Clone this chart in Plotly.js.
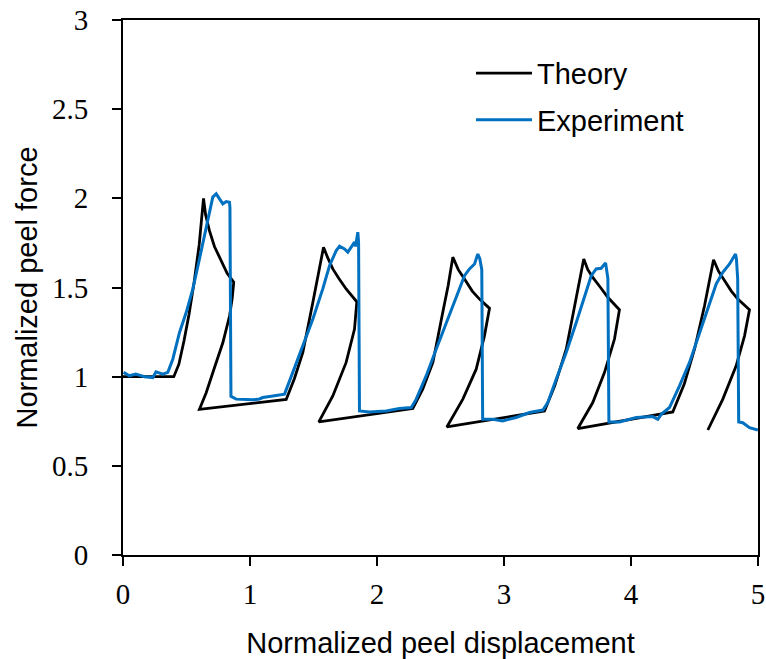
<!DOCTYPE html>
<html>
<head>
<meta charset="utf-8">
<script src="https://cdn.plot.ly/plotly-3.0.1.min.js"></script>
<style>html,body{margin:0;padding:0;background:#fff;}#chart{width:766px;height:659px;}</style>
</head>
<body>
<div id="chart"></div>
<script>
// Theory curve (single continuous path with snap-back loops)
const theoryX = [0, 0.40, 0.44, 0.48, 0.52, 0.56, 0.60, 0.634,
  0.65, 0.68, 0.72, 0.77, 0.82, 0.872,
  0.860, 0.839, 0.786, 0.72, 0.655, 0.602,
  1.285, 1.35, 1.416, 1.495, 1.547, 1.579,
  1.61, 1.652, 1.70, 1.757, 1.841,
  1.823, 1.757, 1.652, 1.542,
  2.282, 2.36, 2.44, 2.518, 2.56, 2.597,
  2.64, 2.689, 2.75, 2.807, 2.886,
  2.846, 2.781, 2.676, 2.55,
  3.319, 3.40, 3.49, 3.568, 3.628,
  3.66, 3.699, 3.76, 3.817, 3.909,
  3.87, 3.791, 3.699, 3.581,
  4.329, 4.42, 4.50, 4.579, 4.65,
  4.69, 4.736, 4.79, 4.841, 4.933,
  4.894, 4.828, 4.723, 4.605];
const theoryY = [1.0, 1.0, 1.07, 1.2, 1.35, 1.53, 1.74, 2.0,
  1.91, 1.82, 1.73, 1.65, 1.58, 1.53,
  1.44, 1.34, 1.19, 1.05, 0.91, 0.817,
  0.872, 0.99, 1.136, 1.417, 1.604, 1.726,
  1.67, 1.604, 1.55, 1.492, 1.42,
  1.267, 1.08, 0.892, 0.746,
  0.821, 0.93, 1.08, 1.361, 1.51, 1.67,
  1.60, 1.548, 1.48, 1.435, 1.383,
  1.229, 1.042, 0.874, 0.718,
  0.808, 0.95, 1.154, 1.435, 1.66,
  1.60, 1.557, 1.50, 1.445, 1.375,
  1.211, 1.023, 0.855, 0.709,
  0.802, 0.96, 1.154, 1.398, 1.656,
  1.59, 1.538, 1.48, 1.435, 1.375,
  1.229, 1.061, 0.874, 0.701];

// Experiment curve
const expX = [0.004, 0.05, 0.10, 0.17, 0.235, 0.26, 0.313, 0.353,
  0.392, 0.445, 0.498, 0.55, 0.602, 0.655, 0.681, 0.707, 0.734, 0.76, 0.786, 0.813, 0.838,
  0.842, 0.85, 0.891, 0.96, 1.022, 1.075, 1.10, 1.154, 1.272,
  1.337, 1.416, 1.495, 1.573, 1.626, 1.679, 1.705, 1.744, 1.77, 1.797, 1.823, 1.831, 1.849,
  1.855, 1.862, 1.941, 2.072, 2.177, 2.27,
  2.309, 2.387, 2.466, 2.545, 2.624, 2.689, 2.728, 2.768, 2.794, 2.81,
  2.825, 2.832, 2.912, 2.99, 3.096, 3.201, 3.306,
  3.345, 3.411, 3.49, 3.569, 3.634, 3.687, 3.726, 3.765, 3.80, 3.81,
  3.818, 3.826, 3.909, 4.041, 4.172, 4.211, 4.238,
  4.303, 4.382, 4.461, 4.539, 4.605, 4.671, 4.723, 4.776, 4.823, 4.83,
  4.84, 4.848, 4.88, 4.933, 4.999];
const expY = [1.024, 1.005, 1.014, 1.0, 0.995, 1.027, 1.014, 1.024,
  1.098, 1.248, 1.361, 1.492, 1.66, 1.829, 1.922, 2.007, 2.025, 1.997, 1.969, 1.982, 1.978,
  1.95, 0.89, 0.874, 0.872, 0.87, 0.875, 0.883, 0.889, 0.902,
  1.024, 1.173, 1.323, 1.492, 1.622, 1.707, 1.731, 1.716, 1.698, 1.726, 1.754, 1.73, 1.81,
  1.75, 0.808, 0.802, 0.808, 0.821, 0.827,
  0.874, 1.004, 1.154, 1.304, 1.454, 1.566, 1.604, 1.632, 1.688, 1.66,
  1.60, 0.761, 0.761, 0.752, 0.771, 0.799, 0.813,
  0.855, 0.986, 1.136, 1.304, 1.454, 1.566, 1.604, 1.608, 1.638, 1.60,
  1.55, 0.746, 0.746, 0.771, 0.776, 0.761, 0.789,
  0.827, 0.948, 1.08, 1.248, 1.379, 1.52, 1.585, 1.632, 1.688, 1.66,
  1.55, 0.746, 0.742, 0.714, 0.701];

const xTicks = [0, 1, 2, 3, 4, 5];
const yTicks = [0, 0.5, 1, 1.5, 2, 2.5, 3];
const yTickText = ['0', '0.5', '1', '1.5', '2', '2.5', '3'];

const traces = [
  {x: theoryX, y: theoryY, type: 'scatter', mode: 'lines', name: 'Theory',
   legendgroup: 'a', line: {color: '#000000', width: 2.8}},
  {x: expX, y: expY, type: 'scatter', mode: 'lines', name: 'Experiment',
   legendgroup: 'b', line: {color: '#0070C0', width: 3}}
];

const axisCommon = {
  showgrid: false, zeroline: false, showline: true, linecolor: '#000', linewidth: 2,
  mirror: true, ticks: 'outside', ticklen: 9, tickwidth: 2, tickcolor: '#000',
  tickfont: {family: 'Liberation Serif, Times New Roman, serif', size: 29, color: '#000'}
};

const layout = {
  width: 766, height: 659,
  margin: {l: 123, r: 8, t: 20, b: 104},
  paper_bgcolor: '#fff', plot_bgcolor: '#fff',
  showlegend: true,
  legend: {x: 0.548, y: 0.948, xanchor: 'left', yanchor: 'top',
    font: {family: 'Liberation Sans, Arial, sans-serif', size: 29, color: '#000'},
    bgcolor: 'rgba(0,0,0,0)', itemwidth: 56, tracegroupgap: 6, traceorder: 'grouped'},
  xaxis: Object.assign({}, axisCommon, {
    range: [0, 5], tickvals: xTicks, ticklabelstandoff: 3,
    title: {text: 'Normalized peel displacement', standoff: 28,
      font: {family: 'Liberation Sans, Arial, sans-serif', size: 29, color: '#000'}}
  }),
  yaxis: Object.assign({}, axisCommon, {
    range: [0, 3], tickvals: yTicks, ticktext: yTickText, ticklabelstandoff: 18,
    title: {text: 'Normalized peel force', standoff: 6,
      font: {family: 'Liberation Sans, Arial, sans-serif', size: 29, color: '#000'}}
  })
};

Plotly.newPlot('chart', traces, layout, {displayModeBar: false, staticPlot: true});
</script>
</body>
</html>
